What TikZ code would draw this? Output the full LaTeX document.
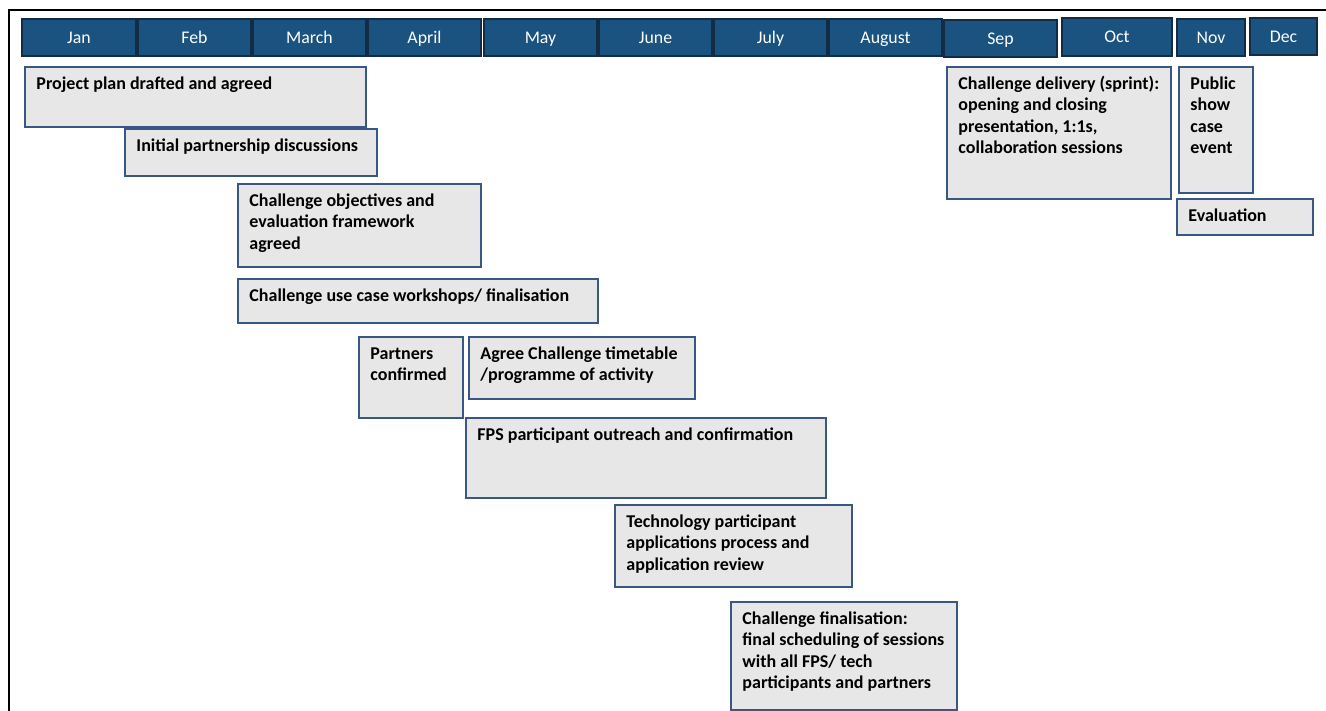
\documentclass[tikz,border=0pt]{standalone}
\usepackage{fontspec}
\setmainfont{Carlito}
\usetikzlibrary{fit}
\definecolor{monthfill}{HTML}{1B5380}
\definecolor{monthline}{HTML}{132B45}
\definecolor{boxfill}{HTML}{E7E7E7}
\definecolor{boxline}{HTML}{3A5783}
\tikzset{
  month/.style={fill=monthfill, draw=monthline, line width=1.6pt, inner sep=0pt},
  monthtext/.style={anchor=base, inner sep=0pt, text=white, font=\fontsize{17.8}{20}\selectfont},
  task/.style={fill=boxfill, draw=boxline, line width=1.5pt, inner sep=0pt},
  tasktext/.style={anchor=base west, inner sep=0pt, font=\fontsize{18}{21.5}\selectfont\bfseries, text=black},
  frameline/.style={line width=2.4pt, black}
}
\newcommand\mylines[1]{\begin{tabular}[t]{@{}l@{}}#1\end{tabular}}
\newcommand\taskbox[6]{%
  \node[task, fit={(#2,#3) (#4,#5)}] (#1) {};
  \node[tasktext] (#1t) at ([shift={(12,23)}]#1.north west) {\mylines{#6}};
}
\newcommand\monthbox[6]{%
  \node[month, fit={(#2,#3) (#4,#5)}] (#1) {};
  \node[monthtext] (#1t) at ([shift={(0,6)}]#1.center) {#6};
}
\begin{document}
\begin{tikzpicture}[x=1pt, y=-1pt]
\useasboundingbox (0,0) rectangle (1326,711);
% frame
\coordinate (ftr) at (1326,10);
\coordinate (ftl) at (9,10);
\coordinate (fbl) at (9,711);
\draw[frameline] (ftr) -- (ftl) -- (fbl);
% months
\monthbox{jan}{22}{19}{136}{56}{Jan}
\monthbox{feb}{138}{19}{251}{56}{Feb}
\monthbox{mar}{253}{19}{366}{56}{March}
\monthbox{apr}{368}{19}{481}{56}{April}
\monthbox{may}{484}{19}{597}{56}{May}
\monthbox{jun}{599}{19}{712}{56}{June}
\monthbox{jul}{714}{19}{827}{56}{July}
\monthbox{aug}{829}{19}{942}{56}{August}
\monthbox{sep}{944}{20}{1057}{57}{Sep}
\monthbox{oct}{1062}{18}{1172}{56}{Oct}
\monthbox{nov}{1177}{19}{1245}{56}{Nov}
\monthbox{dec}{1250}{18}{1317}{55}{Dec}
% tasks
\taskbox{pp}{25}{67}{366}{127}{Project plan drafted and agreed}
\taskbox{ip}{125}{129}{377}{176}{Initial partnership discussions}
\taskbox{co}{238}{184}{481}{267}{Challenge objectives and\\evaluation framework\\agreed}
\taskbox{uc}{238}{279}{598}{323}{Challenge use case workshops/ finalisation}
\taskbox{pc}{359}{337}{463}{418}{Partners\\confirmed}
\taskbox{at}{469}{337}{695}{399}{Agree Challenge timetable\\/programme of activity}
\taskbox{fps}{466}{418}{826}{498}{FPS participant outreach and confirmation}
\taskbox{tp}{615}{505}{852}{587}{Technology participant\\applications process and\\application review}
\taskbox{cf}{731}{602}{957}{710}{Challenge finalisation:\\final scheduling of sessions\\with all FPS/ tech\\participants and partners}
\taskbox{cd}{947}{67}{1171}{199}{Challenge delivery (sprint):\\opening and closing\\presentation, 1:1s,\\collaboration sessions}
\taskbox{ps}{1179}{67}{1253}{193}{Public\\show\\case\\event}
\taskbox{ev}{1177}{199}{1313}{235}{Evaluation}
\end{tikzpicture}
\end{document}
